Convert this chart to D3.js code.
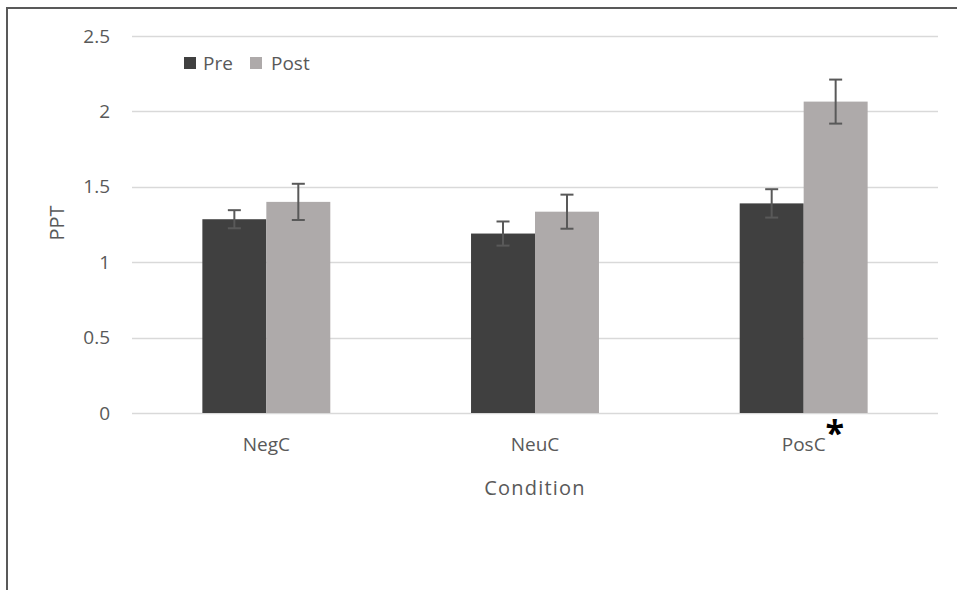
<!DOCTYPE html>
<html>
<head>
<meta charset="utf-8">
<script src="https://cdn.jsdelivr.net/npm/d3@7/dist/d3.min.js"></script>
<style>
  html, body { margin: 0; padding: 0; background: #ffffff; }
  svg { display: block; }
  text { font-family: "Open Sans", "Segoe UI", sans-serif; fill: #595959; }
</style>
</head>
<body>
<svg id="chart" width="957" height="590"></svg>
<script>
const categories = ["NegC", "NeuC", "PosC"];
const seriesNames = ["Pre", "Post"];
const preValues = [1.285, 1.19, 1.39];
const postValues = [1.40, 1.335, 2.065];
const preErrors = [0.06, 0.08, 0.094];
const postErrors = [0.12, 0.113, 0.146];
const yTicks = [0, 0.5, 1, 1.5, 2, 2.5];
const yTickLabels = ["0", "0.5", "1", "1.5", "2", "2.5"];
const significant = ["PosC"];

const colors = { Pre: "#404040", Post: "#aeaaaa" };

const svg = d3.select("#chart");

// frame (left and top edges visible, continues past the window)
svg.append("rect")
  .attr("x", 7).attr("y", 8)
  .attr("width", 1000).attr("height", 1000)
  .attr("fill", "none").attr("stroke", "#595959").attr("stroke-width", 2);

const plot = { left: 132, right: 938, top: 36, bottom: 413 };

const y = d3.scaleLinear().domain([0, 2.5]).range([plot.bottom, plot.top]);
const x0 = d3.scaleBand().domain(categories).range([plot.left, plot.right]).padding(0);
const x1 = d3.scaleBand().domain(seriesNames).range([0, x0.bandwidth()])
  .paddingInner(0).paddingOuter(1.1);

// gridlines
svg.append("g").selectAll("line").data(yTicks).join("line")
  .attr("x1", plot.left).attr("x2", plot.right)
  .attr("y1", d => Math.round(y(d)) + 0.5).attr("y2", d => Math.round(y(d)) + 0.5)
  .attr("stroke", "#d9d9d9").attr("stroke-width", 1.5);

// y tick labels
svg.append("g").selectAll("text").data(yTicks).join("text")
  .attr("x", 110).attr("y", d => y(d))
  .attr("dy", "0.35em")
  .attr("text-anchor", "end")
  .attr("font-size", 19)
  .text((d, i) => yTickLabels[i]);

// data table
const rows = categories.map((c, i) => ({
  cat: c,
  vals: [
    { s: "Pre", v: preValues[i], e: preErrors[i] },
    { s: "Post", v: postValues[i], e: postErrors[i] }
  ]
}));

const groups = svg.append("g").selectAll("g").data(rows).join("g")
  .attr("transform", d => `translate(${x0(d.cat)},0)`);

groups.selectAll("rect").data(d => d.vals).join("rect")
  .attr("x", d => x1(d.s))
  .attr("width", x1.bandwidth())
  .attr("y", d => y(d.v))
  .attr("height", d => y(0) - y(d.v))
  .attr("fill", d => colors[d.s]);

// error bars
const capW = 13;
const eb = groups.selectAll("g.eb").data(d => d.vals).join("g").attr("class", "eb");
eb.append("line")
  .attr("x1", d => x1(d.s) + x1.bandwidth() / 2)
  .attr("x2", d => x1(d.s) + x1.bandwidth() / 2)
  .attr("y1", d => y(d.v + d.e)).attr("y2", d => y(d.v - d.e))
  .attr("stroke", "#595959").attr("stroke-width", 2);
eb.append("line")
  .attr("x1", d => x1(d.s) + x1.bandwidth() / 2 - capW / 2)
  .attr("x2", d => x1(d.s) + x1.bandwidth() / 2 + capW / 2)
  .attr("y1", d => y(d.v + d.e)).attr("y2", d => y(d.v + d.e))
  .attr("stroke", "#595959").attr("stroke-width", 2);
eb.append("line")
  .attr("x1", d => x1(d.s) + x1.bandwidth() / 2 - capW / 2)
  .attr("x2", d => x1(d.s) + x1.bandwidth() / 2 + capW / 2)
  .attr("y1", d => y(d.v - d.e)).attr("y2", d => y(d.v - d.e))
  .attr("stroke", "#595959").attr("stroke-width", 2);

// category labels
svg.append("g").selectAll("text").data(categories).join("text")
  .attr("x", d => x0(d) + x0.bandwidth() / 2)
  .attr("y", 451)
  .attr("text-anchor", "middle")
  .attr("font-size", 19)
  .text(d => d);

// significance asterisk
svg.append("g").selectAll("text").data(significant).join("text")
  .attr("x", d => x0(d) + x0.bandwidth() / 2 + 31)
  .attr("y", 445)
  .attr("text-anchor", "middle")
  .attr("font-size", 34)
  .attr("font-weight", "bold")
  .style("fill", "#000000")
  .text("*");

// axis titles
svg.append("text")
  .attr("x", x0("NeuC") + x0.bandwidth() / 2)
  .attr("y", 495)
  .attr("text-anchor", "middle")
  .attr("font-size", 20)
  .attr("letter-spacing", 1.2)
  .text("Condition");

svg.append("text")
  .attr("transform", "translate(64,223) rotate(-90)")
  .attr("text-anchor", "middle")
  .attr("font-size", 20)
  .text("PPT");

// legend
const legendItems = [
  { s: "Pre", sx: 184, tx: 203 },
  { s: "Post", sx: 250, tx: 271 }
];
const lg = svg.append("g").selectAll("g").data(legendItems).join("g");
lg.append("rect")
  .attr("x", d => d.sx).attr("y", 57).attr("width", 12).attr("height", 12)
  .attr("fill", d => colors[d.s]);
lg.append("text")
  .attr("x", d => d.tx).attr("y", 70)
  .attr("font-size", 19)
  .text(d => d.s);
</script>
</body>
</html>
